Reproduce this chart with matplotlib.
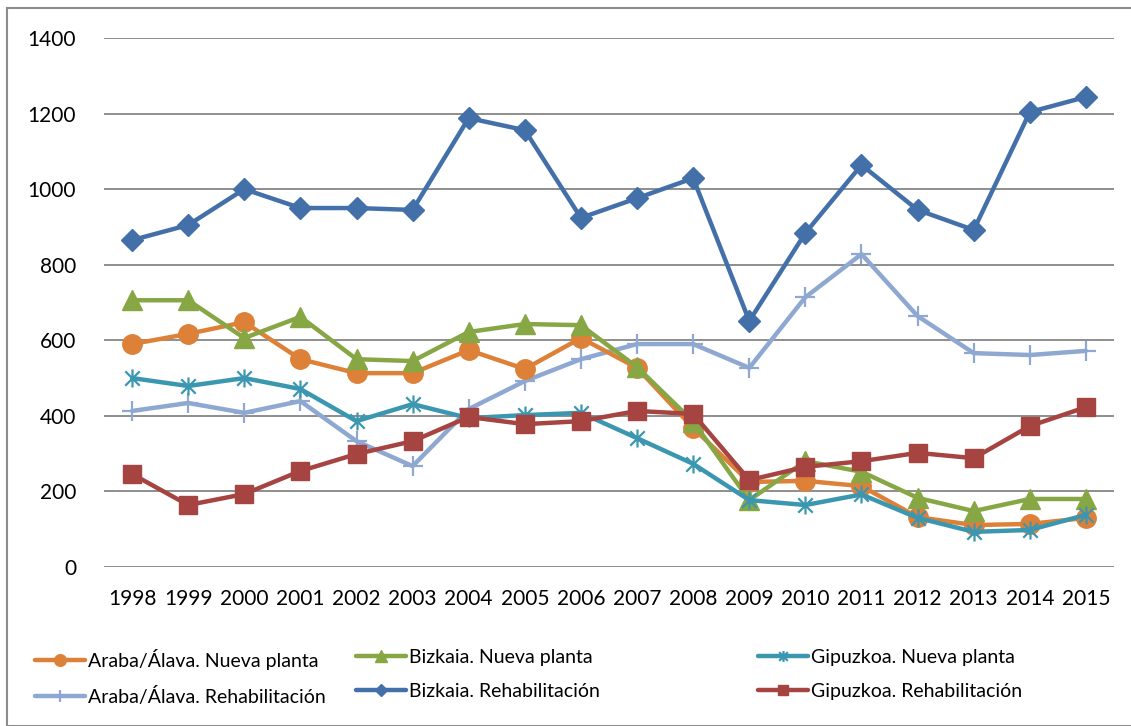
import matplotlib
matplotlib.use("Agg")
import matplotlib.pyplot as plt
import numpy as np
from matplotlib.path import Path
from matplotlib.patches import Rectangle

years = [str(y) for y in range(1998, 2016)]

araba_nueva = [590, 617, 648, 550, 513, 513, 574, 524, 606, 527, 368, 225, 228, 214, 132, 111, 114, 130]
bizkaia_nueva = [706, 706, 606, 662, 550, 545, 622, 643, 640, 529, 385, 177, 280, 252, 183, 148, 180, 180]
gipuzkoa_nueva = [500, 479, 500, 471, 386, 431, 394, 402, 408, 341, 273, 177, 164, 192, 130, 93, 98, 138]
araba_rehab = [413, 434, 408, 439, 333, 267, 418, 492, 550, 590, 590, 527, 714, 828, 664, 566, 561, 572]
bizkaia_rehab = [865, 905, 1000, 950, 950, 945, 1188, 1156, 924, 976, 1029, 651, 884, 1064, 945, 892, 1204, 1244]
gipuzkoa_rehab = [246, 164, 193, 254, 299, 333, 397, 378, 386, 413, 405, 230, 265, 280, 302, 288, 373, 423]

# asterisk marker like Excel's (vertical bar + X)
star = Path([(0, -1), (0, 1), (-0.8, -0.8), (0.8, 0.8), (-0.8, 0.8), (0.8, -0.8)],
            [Path.MOVETO, Path.LINETO, Path.MOVETO, Path.LINETO, Path.MOVETO, Path.LINETO])

plt.rcParams['font.family'] = ['Lato', 'DejaVu Sans']

fig = plt.figure(figsize=(11.31, 7.26), dpi=100)
fig.patches.append(Rectangle((7 / 1131, 0), 1.2, 1 - 8 / 726, transform=fig.transFigure,
                             fill=False, edgecolor='#8c8c8c', linewidth=1.5))
ax = fig.add_axes([104 / 1131, 1 - 567 / 726, (1114 - 104) / 1131, (567 - 38) / 726])

x = np.arange(len(years))
lw = 3.2
series = [
    (araba_nueva, 'Araba/Álava. Nueva planta', '#DD8138', dict(marker='o', ms=14)),
    (araba_rehab, 'Araba/Álava. Rehabilitación', '#8EA8D1', dict(marker='+', ms=15, mew=1.6)),
    (bizkaia_nueva, 'Bizkaia. Nueva planta', '#86A744', dict(marker='^', ms=14)),
    (bizkaia_rehab, 'Bizkaia. Rehabilitación', '#4470AA', dict(marker='D', ms=11)),
    (gipuzkoa_nueva, 'Gipuzkoa. Nueva planta', '#3B97B0', dict(marker=star, ms=13, mew=1.6)),
    (gipuzkoa_rehab, 'Gipuzkoa. Rehabilitación', '#A64442', dict(marker='s', ms=13)),
]
# drawing order roughly as in the original
order = [1, 3, 0, 2, 4, 5]
handles = {}
for i in order:
    vals, label, col, mk = series[i]
    h, = ax.plot(x, vals, color=col, lw=lw, label=label, mec=col, mfc=col,
                 solid_capstyle='round', solid_joinstyle='round', **mk)
    handles[i] = h

ax.set_xlim(-0.5, len(years) - 0.5)
ax.set_ylim(0, 1400)
ax.set_yticks(range(0, 1401, 200))
ax.set_xticks(x)
ax.set_xticklabels(years)
ax.tick_params(length=0, labelsize=15, colors='black')
ax.tick_params(axis='y', pad=20)
ax.tick_params(axis='x', pad=16)
ax.grid(axis='y', color='#868686', lw=1.3)
ax.set_axisbelow(True)
for s in ax.spines.values():
    s.set_visible(False)

# legend: three columns of two entries
col_x = [27 / 1131, 348 / 1131, 750 / 1131]
for c, pair in enumerate([(0, 1), (2, 3), (4, 5)]):
    hs = [handles[p] for p in pair]
    leg = fig.legend(hs, [h.get_label() for h in hs], loc='upper left',
                     bbox_to_anchor=(col_x[c], 1 - 641 / 726), frameon=False,
                     fontsize=14, handlelength=2.6, handletextpad=0.15,
                     labelspacing=0.9, markerscale=0.6, borderaxespad=0)

fig.savefig('out.png', dpi=100)
